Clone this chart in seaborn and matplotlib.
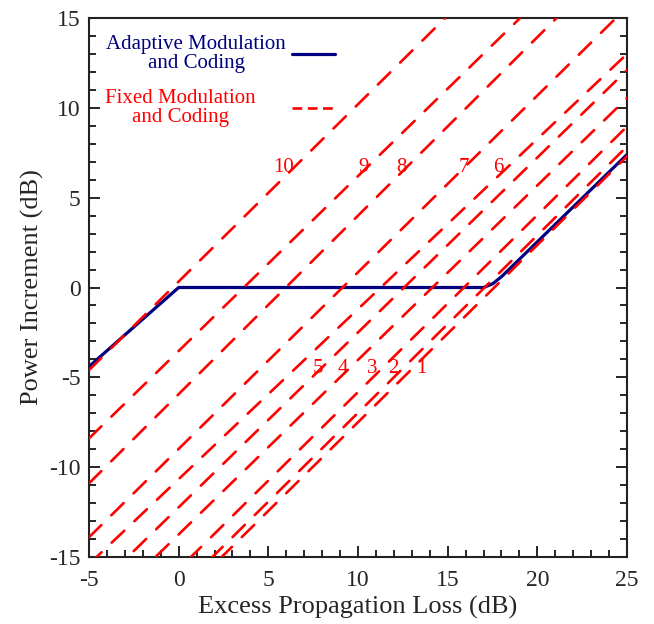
import numpy as np
import pandas as pd
import matplotlib
matplotlib.use("Agg")
import matplotlib.pyplot as plt
from matplotlib.lines import Line2D
from matplotlib.ticker import MultipleLocator
import seaborn as sns

# ---------------- data ----------------
# Adaptive Modulation and Coding curve (x: excess loss dB, y: power increment dB)
acm_x = [-5.0, 0.0, 17.0, 17.5, 18.0, 25.0]
acm_y = [-4.4, 0.0, 0.0, 0.2, 0.6, 7.4]

# Fixed MODCOD lines: value at x=-5 and at x=25 (id 1..10)
fixed_ids = [1, 2, 3, 4, 5, 6, 7, 8, 9, 10]
fixed_x = [-5.0, 25.0]
fixed_y_left = [-22.3, -21.8, -20.6, -18.6, -17.1, -15.4, -13.9, -10.9, -8.4, -4.6]
fixed_y_right = [7.3, 7.85, 8.96, 10.54, 12.1, 13.0, 15.6, 18.9, 20.8, 25.0]

# curve number labels
label_text = ["1", "2", "3", "4", "5", "6", "7", "8", "9", "10"]
label_x = [13.52, 11.96, 10.78, 9.13, 7.74, 17.85, 15.9, 12.43, 10.3, 5.84]
label_y = [-4.5, -4.5, -4.5, -4.5, -4.5, 6.7, 6.7, 6.7, 6.7, 6.7]

legend_labels = ["Adaptive Modulation\nand Coding", "Fixed Modulation\nand Coding"]

xticks = [-5, 0, 5, 10, 15, 20, 25]
yticks = [-15, -10, -5, 0, 5, 10, 15]

# ---------------- style ----------------
sns.set_style("ticks")
plt.rcParams["font.family"] = ["Liberation Serif", "DejaVu Serif"]
plt.rcParams["lines.scale_dashes"] = False
plt.rcParams["axes.unicode_minus"] = False

NAVY = "#000080"
RED = "#ff0000"

fig = plt.figure(figsize=(6.54, 6.24), dpi=100)
ax = fig.add_axes([89 / 654, 1 - 557 / 624, 538 / 654, 539 / 624])

rows = []
for i, yl, yr in zip(fixed_ids, fixed_y_left, fixed_y_right):
    rows.append({"id": i, "x": fixed_x[0], "y": yl})
    rows.append({"id": i, "x": fixed_x[1], "y": yr})
fixed_df = pd.DataFrame(rows)
acm_df = pd.DataFrame({"x": acm_x, "y": acm_y})

sns.lineplot(data=acm_df, x="x", y="y", ax=ax, color=NAVY, lw=2.3,
             sort=False, estimator=None, zorder=2, solid_capstyle="butt")
for i in fixed_ids:
    d = fixed_df[fixed_df["id"] == i]
    sns.lineplot(data=d, x="x", y="y", ax=ax, color=RED, lw=1.9,
                 linestyle=(0, (12.5, 10.0)), estimator=None, sort=False,
                 zorder=3, dash_capstyle="round")

for t, x, y in zip(label_text, label_x, label_y):
    ax.text(x, y, t, color=RED, fontsize=15, ha="center", va="center")

ax.set_xlim(-5, 25)
ax.set_ylim(-15, 15)
ax.set_xticks(xticks)
ax.set_yticks(yticks)
ax.xaxis.set_minor_locator(MultipleLocator(1))
ax.yaxis.set_minor_locator(MultipleLocator(1))
ax.tick_params(which="both", direction="in", top=False, right=True,
               color="black", width=1.2)
ax.tick_params(which="major", length=8, labelsize=17)
ax.tick_params(axis="x", which="major", pad=9)
ax.tick_params(axis="y", which="major", pad=6)
ax.tick_params(which="minor", length=5)
for s in ax.spines.values():
    s.set_visible(True)
    s.set_linewidth(1.5)
    s.set_color("#222222")

ax.set_xlabel("Excess Propagation Loss (dB)", fontsize=19, labelpad=4)
ax.set_ylabel("Power Increment (dB)", fontsize=19, labelpad=4)

# legend: texts (left block) + line keys (right column)
ax.text(0.199, 0.933, legend_labels[0], transform=ax.transAxes, color=NAVY,
        fontsize=15, ha="center", va="center", multialignment="center",
        linespacing=1.05)
ax.text(0.170, 0.833, legend_labels[1], transform=ax.transAxes, color=RED,
        fontsize=15, ha="center", va="center", multialignment="center",
        linespacing=1.05)
key_style = dict(loc="center left", frameon=False, handlelength=2.07,
                 handletextpad=0, borderpad=0, borderaxespad=0, fontsize=15)
leg1 = ax.legend([Line2D([], [], color=NAVY, lw=2.3)], [""],
                 bbox_to_anchor=(0.377, 0.929), **key_style)
ax.add_artist(leg1)
ax.legend([Line2D([], [], color=RED, lw=1.9, linestyle=(0, (7, 4)))], [""],
          bbox_to_anchor=(0.377, 0.829), **key_style)

fig.savefig("out.png", dpi=100)
